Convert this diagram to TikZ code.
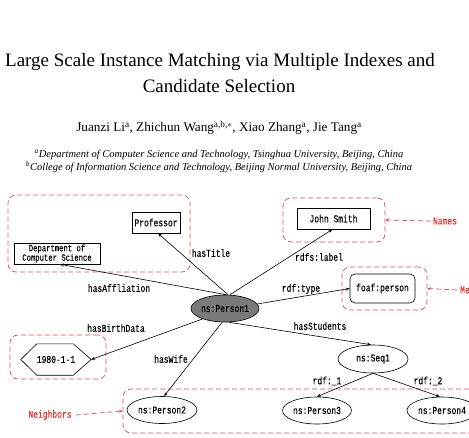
\documentclass[tikz,border=0pt]{standalone}
\usepackage{fontspec}
\setmainfont{Liberation Serif}
\newfontfamily\monof[FakeStretch=0.76,FakeBold=0.15]{Liberation Mono}
\usetikzlibrary{arrows.meta,shapes.geometric}
\definecolor{grpred}{HTML}{E0485A}
\definecolor{lblred}{HTML}{E8332F}
\definecolor{nodegray}{HTML}{7A7A7A}
\tikzset{
  mono/.style={font=\monof\fontsize{10.5}{11}\selectfont},
  boxnode/.style={mono,draw=black,line width=0.6pt,inner sep=0pt},
  ellnode/.style={mono,draw=black,line width=0.6pt,ellipse,inner sep=0pt},
  grp/.style={draw=grpred,dashed,dash pattern=on 5pt off 3pt,line width=0.7pt,rounded corners=8pt,inner sep=0pt},
  edge/.style={draw=black,line width=0.6pt,-{Stealth[length=4pt,width=3pt]}},
  redarrow/.style={draw=grpred,dash pattern=on 5pt off 3pt,line width=0.7pt,-{Stealth[length=3.5pt,width=3pt]}},
  elabel/.style={mono,inner sep=0pt},
  redlabel/.style={mono,text=lblred,inner sep=0pt},
}
\begin{document}
\begin{tikzpicture}[x=1pt,y=-1pt]
\clip (0,0) rectangle (469,437);
\fill[white] (0,0) rectangle (469,437);

% title block
\node (t1) at (220,62) {\fontsize{19}{22}\selectfont Large Scale Instance Matching via Multiple Indexes and};
\node (t2) at (219,86) {\fontsize{19}{22}\selectfont Candidate Selection};
\node (au) at (219,128) {\fontsize{13.2}{15}\selectfont Juanzi Li\textsuperscript{a}, Zhichun Wang\textsuperscript{a,b,$\ast$}, Xiao Zhang\textsuperscript{a}, Jie Tang\textsuperscript{a}};
\node (af1) at (219,155) {\fontsize{10.5}{12}\selectfont\itshape \textsuperscript{a}Department of Computer Science and Technology, Tsinghua University, Beijing, China};
\node (af2) at (219,167) {\fontsize{10.5}{12}\selectfont\itshape \textsuperscript{b}College of Information Science and Technology, Beijing Normal University, Beijing, China};

% groups
\node[grp,minimum width=182pt,minimum height=77pt] (g1) at (99,233.5) {};
\node[grp,minimum width=102pt,minimum height=44pt] (g2) at (334,220) {};
\node[grp,minimum width=85pt,minimum height=43pt] (g3) at (384.5,288.5) {};
\node[grp,minimum width=96pt,minimum height=44pt] (g4) at (58,357) {};
\node[grp,minimum width=362pt,minimum height=44pt] (g5) at (304,411) {};

% nodes
\node[boxnode,minimum width=48pt,minimum height=21pt] (prof) at (156,222.5) {Professor};
\node[boxnode,minimum width=86pt,minimum height=21pt,align=center,font=\monof\fontsize{9.5}{9.5}\selectfont] (dept) at (57,253.5) {Department of\\Computer Science};
\node[ellnode,fill=nodegray,minimum width=68pt,minimum height=27pt] (p1) at (225,308.5) {ns:Person1};
\node[boxnode,minimum width=73pt,minimum height=21pt] (js) at (333.5,218.5) {John Smith};
\node[boxnode,rounded corners=5pt,minimum width=65pt,minimum height=29pt] (foaf) at (382.5,288.5) {foaf:person};
\node[mono,inner sep=0pt,minimum width=70pt,minimum height=31pt] (hex) at (56,359.5) {1980-1-1};
\draw[line width=0.6pt] (hex.west) -- ([xshift=16pt]hex.north west) -- ([xshift=-18pt]hex.north east) -- (hex.east) -- ([xshift=-18pt]hex.south east) -- ([xshift=16pt]hex.south west) -- cycle;
\node[ellnode,minimum width=70pt,minimum height=27pt] (p2) at (162,410) {ns:Person2};
\node[ellnode,minimum width=70pt,minimum height=28pt] (seq) at (373,359) {ns:Seq1};
\node[ellnode,minimum width=69pt,minimum height=27pt] (p3) at (317,410.5) {ns:Person3};
\node[ellnode,minimum width=70pt,minimum height=27pt] (p4) at (442,410.5) {ns:Person4};

% edges
\draw[edge] ([xshift=3pt]p1.north) -- ([xshift=2pt]prof.south);
\draw[edge] ([xshift=1pt]p1.north) -- ([xshift=3pt]dept.south);
\draw[edge] ([xshift=5pt]p1.north) -- ([xshift=-1pt]js.south);
\draw[edge] (p1.8) -- (foaf.west);
\draw[edge] (p1.205) -- (hex.east);
\draw[edge] (p1.258) -- ([xshift=2pt]p2.north);
\draw[edge] (p1.285) -- ([xshift=-2pt]seq.north);
\draw[edge] (seq.south) -- (p3.north);
\draw[edge] (seq.south) -- ([xshift=-2pt]p4.north);

% edge labels
\node[elabel] (lt) at (211,253) {hasTitle};
\node[elabel] (la) at (119,288) {hasAffliation};
\node[elabel] (lr) at (319,257) {rdfs:label};
\node[elabel] (ly) at (301,289) {rdf:type};
\node[elabel] (lb) at (116,328) {hasBirthData};
\node[elabel] (lw) at (171,359) {hasWife};
\node[elabel] (ls) at (320,326) {hasStudents};
\node[elabel] (l1) at (327,381) {rdf:\_1};
\node[elabel] (l2) at (428,381) {rdf:\_2};

% red annotations
\node[redlabel] (names) at (445,221) {Names};
\node[redlabel,anchor=west] (me) at (460,290) {Me};
\node[redlabel] (neigh) at (50,415) {Neighbors};
\draw[redarrow] ([xshift=-2pt]names.west) -- (g2.east);
\draw[redarrow] ([xshift=-3pt]me.west) -- (g3.east);
\draw[redarrow] ([xshift=4pt]neigh.east) -- (g5.west);
\end{tikzpicture}
\end{document}
